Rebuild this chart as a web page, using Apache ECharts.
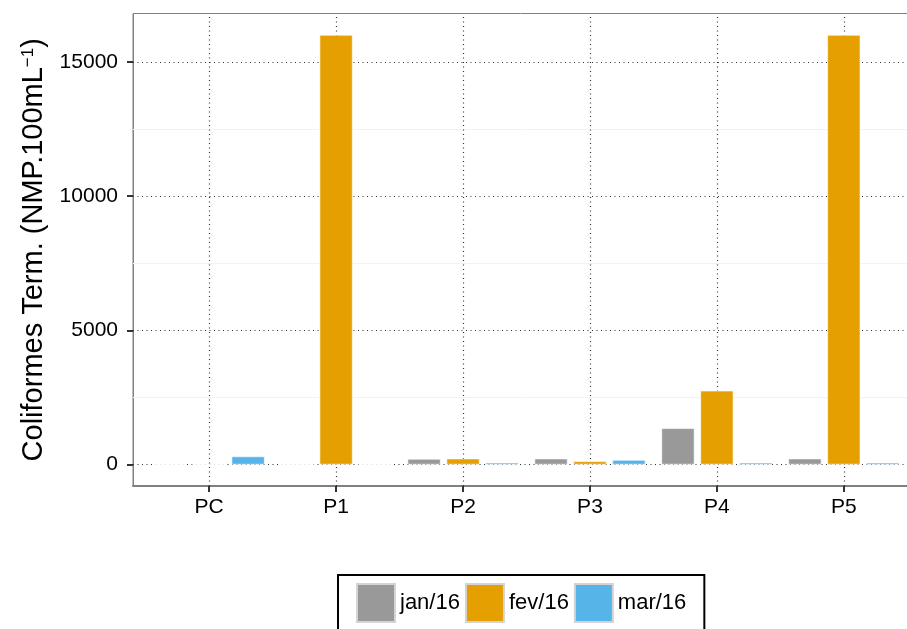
<!DOCTYPE html>
<html><head><meta charset="utf-8">
<script src="https://cdn.jsdelivr.net/npm/echarts@6/dist/echarts.min.js"></script>
<style>html,body{margin:0;padding:0;background:#fff}#c{width:907px;height:629px}</style>
</head><body><div id="c"></div>
<script>
const categories = ['PC', 'P1', 'P2', 'P3', 'P4', 'P5'];
const seriesNames = ['jan/16', 'fev/16', 'mar/16'];
const jan = [0, 0, 210, 220, 1350, 220];
const fev = [0, 16000, 220, 120, 2750, 16000];
const mar = [300, 0, 70, 170, 70, 70];
const yTicks = [0, 5000, 10000, 15000];
const yMinor = [2500, 7500, 12500];
const colors = ['#999999', '#E69F00', '#56B4E9'];

const FONT = '"Liberation Sans", Arial, sans-serif';
const xIdx = categories.map((c, i) => i);
const values = [jan, fev, mar];

const dotted = { color: '#333', width: 1.2, type: [1, 3.5] };
const series = seriesNames.map((name, s) => {
  const ser = {
    name: name,
    type: 'bar',
    data: categories.map((c, i) => [i, values[s][i]]),
    barWidth: 33,
    barGap: '18%',
    itemStyle: { color: colors[s], borderColor: '#ffffff', borderWidth: 0.6 },
    z: 2
  };
  if (s === 1) {
    ser.markLine = {
      silent: true,
      symbol: 'none',
      z: 1,
      animation: false,
      label: { show: false },
      data: [
        ...yMinor.map(v => ({ yAxis: v, lineStyle: { color: '#f2f2f2', width: 1, type: 'solid' } })),
        ...yTicks.map(v => ({ yAxis: v, lineStyle: dotted })),
        ...xIdx.map(v => ({ xAxis: v, lineStyle: dotted }))
      ]
    };
  }
  return ser;
});

const chart = echarts.init(document.getElementById('c'), null, { renderer: 'canvas' });
chart.setOption({
  animation: false,
  backgroundColor: '#ffffff',
  textStyle: { fontFamily: FONT },
  grid: {
    left: 133, top: 13.5, width: 787, height: 472.5,
    outerBoundsMode: 'none',
    containLabel: false,
    show: true, borderColor: '#808080', borderWidth: 1, backgroundColor: 'transparent'
  },
  xAxis: {
    type: 'value',
    min: -0.6, max: 5.6,
    splitLine: { show: false },
    axisLine: { show: true, onZero: false, lineStyle: { color: '#808080', width: 2 } },
    axisTick: { show: true, customValues: xIdx, length: 6, lineStyle: { color: '#333', width: 2 } },
    axisLabel: {
      customValues: xIdx,
      formatter: v => categories[Math.round(v)] || '',
      margin: 11, fontSize: 21, color: '#000', fontFamily: FONT
    }
  },
  yAxis: {
    type: 'value',
    min: -800, max: 16800,
    splitLine: { show: false },
    axisLine: { show: true, onZero: false, lineStyle: { color: '#808080', width: 1 } },
    axisTick: { show: true, customValues: yTicks, length: 6, lineStyle: { color: '#333', width: 2 } },
    axisLabel: { customValues: yTicks, formatter: v => String(v), margin: 15, fontSize: 21, color: '#000', fontFamily: FONT },
    name: '{a|Coliformes Term. (NMP.100mL}{s|−1}{a|)}',
    nameLocation: 'middle',
    nameRotate: 90,
    nameGap: 80,
    nameTextStyle: {
      fontSize: 29, color: '#000', fontFamily: FONT,
      rich: {
        a: { fontSize: 29, color: '#000', fontFamily: FONT },
        s: { fontSize: 17, color: '#000', fontFamily: FONT, verticalAlign: 'top' }
      }
    }
  },
  legend: {
    data: seriesNames,
    left: 338, top: 575,
    orient: 'horizontal',
    icon: 'rect',
    itemWidth: 38, itemHeight: 38, itemGap: 5,
    padding: [8, 18, 8, 18],
    borderColor: '#000', borderWidth: 2,
    backgroundColor: '#fff',
    itemStyle: { borderColor: '#d4d4d4', borderWidth: 2 },
    textStyle: { fontSize: 22, color: '#000', fontFamily: FONT }
  },
  series: series
});
</script>
</body></html>
